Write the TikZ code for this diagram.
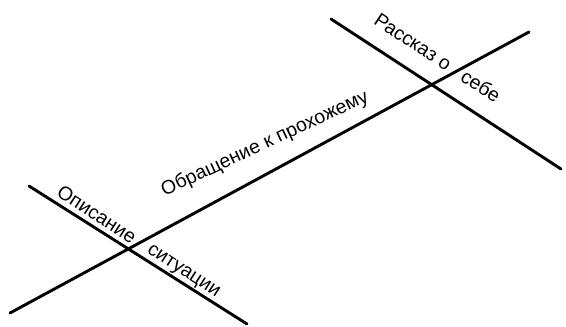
\documentclass[tikz,border=0pt]{standalone}
\usepackage{fontspec}
\setmainfont{Liberation Sans}
\begin{document}
\begin{tikzpicture}[x=1pt,y=-1pt,
  axis/.style={line width=2.9pt,line cap=round},
  lbl/.style={font=\fontsize{19.5}{22}\selectfont,inner sep=0pt}]
\useasboundingbox (0,0) rectangle (566,327);
\coordinate (m1) at (10,313);
\coordinate (m2) at (529,32);
\coordinate (a1) at (29,186);
\coordinate (a2) at (247,324);
\coordinate (b1) at (331,19);
\coordinate (b2) at (561,169);
\draw[axis] (m1) -- (m2);
\draw[axis] (a1) -- (a2);
\draw[axis] (b1) -- (b2);
\node[lbl,rotate=-33] (t1) at (97,214) {Описание};
\node[lbl,rotate=-33] (t2) at (183,272) {ситуации};
\node[lbl,rotate=25] (t3) at (265,144) {Обращение к прохожему};
\node[lbl,rotate=-33.5] (t4) at (413,42) {Рассказ о};
\node[lbl,rotate=-32] (t5) at (481,86) {себе};
\end{tikzpicture}
\end{document}
